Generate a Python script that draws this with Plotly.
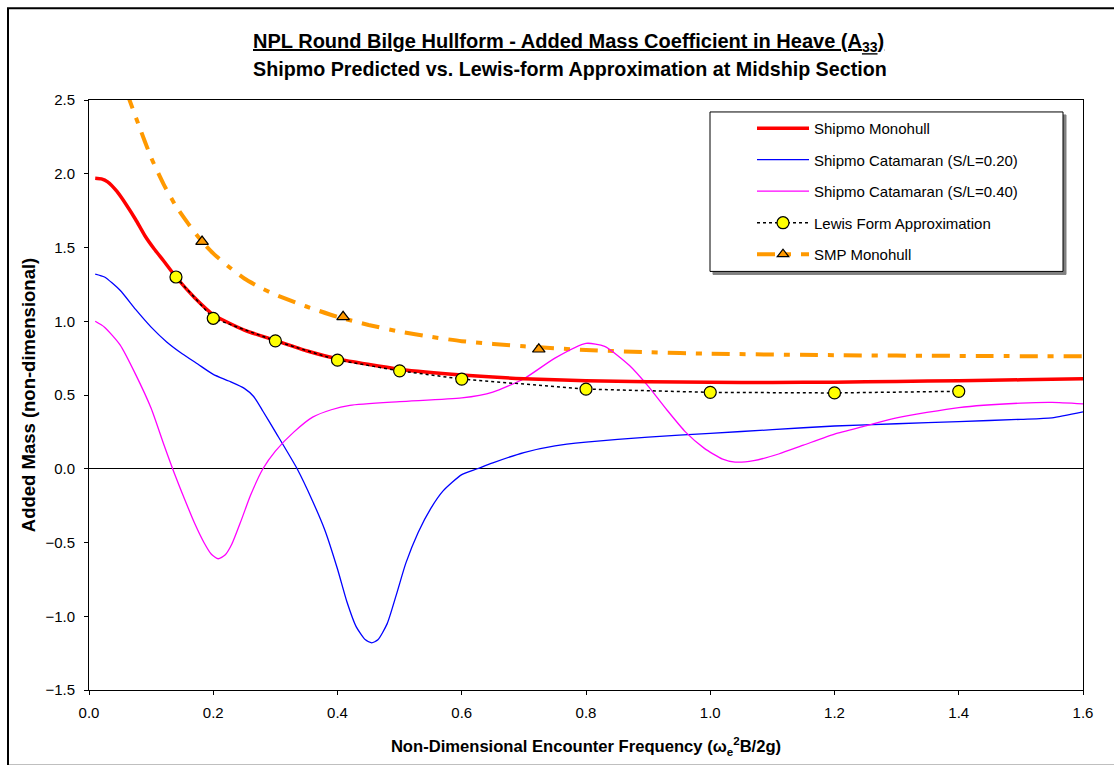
import plotly.graph_objects as go

# ---------------- data ----------------
mono_x = [0.01, 0.02, 0.03, 0.045, 0.06, 0.075, 0.09, 0.105, 0.12, 0.14, 0.17, 0.2, 0.25, 0.3,
          0.35, 0.4, 0.5, 0.6, 0.7, 0.8, 0.9, 1.0, 1.1, 1.2, 1.3, 1.4, 1.5, 1.6]
mono_y = [1.97, 1.965, 1.945, 1.88, 1.79, 1.69, 1.58, 1.49, 1.41, 1.30, 1.16, 1.045, 0.94, 0.87,
          0.80, 0.745, 0.675, 0.635, 0.61, 0.597, 0.59, 0.586, 0.585, 0.587, 0.592, 0.597, 0.603, 0.61]

cat20_x = [0.01, 0.025, 0.05, 0.075, 0.1, 0.125, 0.15, 0.175, 0.2, 0.225, 0.25, 0.265, 0.28, 0.3,
           0.335, 0.36, 0.38, 0.4, 0.415, 0.43, 0.445, 0.455, 0.465, 0.48, 0.495, 0.51, 0.53, 0.55,
           0.57, 0.6, 0.625, 0.65, 0.7, 0.75, 0.8, 0.9, 1.0, 1.1, 1.2, 1.3, 1.4, 1.5, 1.55, 1.6]
cat20_y = [1.32, 1.30, 1.21, 1.08, 0.96, 0.86, 0.78, 0.71, 0.64, 0.595, 0.545, 0.49, 0.39, 0.25,
           0.0, -0.22, -0.42, -0.68, -0.90, -1.07, -1.16, -1.18, -1.16, -1.05, -0.85, -0.64, -0.43, -0.27,
           -0.15, -0.04, 0.0, 0.04, 0.11, 0.155, 0.18, 0.215, 0.24, 0.265, 0.29, 0.305, 0.32, 0.335, 0.345, 0.385]

cat40_x = [0.01, 0.025, 0.05, 0.075, 0.1, 0.12, 0.14, 0.16, 0.17, 0.185, 0.197, 0.208, 0.219, 0.23,
           0.245, 0.26, 0.28, 0.3, 0.33, 0.36, 0.39, 0.42, 0.5, 0.6, 0.65, 0.7, 0.75, 0.8, 0.83, 0.87,
           0.9, 0.93, 0.96, 0.99, 1.02, 1.04, 1.07, 1.11, 1.15, 1.2, 1.25, 1.3, 1.4, 1.5, 1.55, 1.6]
cat40_y = [1.0, 0.96, 0.84, 0.64, 0.41, 0.17, -0.06, -0.27, -0.37, -0.50, -0.58, -0.61, -0.585, -0.51,
           -0.35, -0.18, 0.0, 0.12, 0.25, 0.35, 0.40, 0.43, 0.455, 0.48, 0.52, 0.61, 0.75, 0.85, 0.83, 0.70,
           0.56, 0.40, 0.25, 0.14, 0.065, 0.045, 0.055, 0.10, 0.16, 0.235, 0.29, 0.345, 0.415, 0.445, 0.45, 0.44]

lewis_x = [0.14, 0.2, 0.3, 0.4, 0.5, 0.6, 0.8, 1.0, 1.2, 1.4]
lewis_y = [1.30, 1.02, 0.867, 0.736, 0.664, 0.608, 0.54, 0.518, 0.514, 0.525]

smp_line_x = [0.06, 0.08, 0.1, 0.12, 0.14, 0.16, 0.18, 0.2, 0.225, 0.25, 0.275, 0.3, 0.35, 0.4,
              0.45, 0.5, 0.55, 0.6, 0.7, 0.8, 0.9, 1.0, 1.2, 1.4, 1.6]
smp_line_y = [2.56, 2.33, 2.11, 1.93, 1.78, 1.66, 1.55, 1.46, 1.37, 1.29, 1.23, 1.18, 1.10, 1.03,
              0.975, 0.93, 0.895, 0.865, 0.83, 0.805, 0.79, 0.78, 0.77, 0.765, 0.762]

smp_pts_x = [0.182, 0.409, 0.724]
smp_pts_y = [1.54, 1.03, 0.81]

x_ticks = [0.0, 0.2, 0.4, 0.6, 0.8, 1.0, 1.2, 1.4, 1.6]
y_ticks = [-1.5, -1.0, -0.5, 0.0, 0.5, 1.0, 1.5, 2.0, 2.5]

# ---------------- layout geometry (pixels) ----------------
W, H = 1114, 765
L, R, T, B = 89, 31, 100, 73
PW, PH = W - L - R, H - T - B


def px(xp):
    return (xp - L) / PW


def py(yp):
    return (H - B - yp) / PH


FONT = "Liberation Sans, Arial, sans-serif"
ORANGE = "#FF9900"
SMP_DASH = "18px,10px,6px,10px"

fig = go.Figure()

fig.add_trace(go.Scatter(x=smp_line_x, y=smp_line_y, mode="lines", showlegend=False,
                         line=dict(color=ORANGE, width=4, dash=SMP_DASH, shape="spline", smoothing=0.6),
                         hoverinfo="skip"))
fig.add_trace(go.Scatter(x=cat20_x, y=cat20_y, mode="lines", name="Shipmo Catamaran (S/L=0.20)",
                         legendrank=2, legendgroup="b",
                         line=dict(color="#0000FF", width=1.3, shape="spline", smoothing=0.6)))
fig.add_trace(go.Scatter(x=cat40_x, y=cat40_y, mode="lines", name="Shipmo Catamaran (S/L=0.40)",
                         legendrank=3, legendgroup="c",
                         line=dict(color="#FF00FF", width=1.3, shape="spline", smoothing=0.6)))
fig.add_trace(go.Scatter(x=mono_x, y=mono_y, mode="lines", name="Shipmo Monohull",
                         legendrank=1, legendgroup="a",
                         line=dict(color="#FF0000", width=3.5, shape="spline", smoothing=0.6)))
fig.add_trace(go.Scatter(x=lewis_x, y=lewis_y, mode="lines+markers", name="Lewis Form Approximation",
                         legendrank=4, legendgroup="d",
                         line=dict(color="black", width=1.5, dash="dot"),
                         marker=dict(symbol="circle", size=12, color="#FFFF00",
                                     line=dict(color="black", width=1.2))))
fig.add_trace(go.Scatter(x=smp_pts_x, y=smp_pts_y, mode="markers", showlegend=False,
                         marker=dict(symbol="triangle-up", size=11, color=ORANGE,
                                     line=dict(color="black", width=1.2))))
# legend entry for SMP (line + triangle)
fig.add_trace(go.Scatter(x=[None], y=[None], mode="lines+markers", name="SMP Monohull",
                         legendrank=5, legendgroup="e",
                         line=dict(color=ORANGE, width=4, dash=SMP_DASH),
                         marker=dict(symbol="triangle-up", size=10, color=ORANGE,
                                     line=dict(color="black", width=1.2))))

shapes = [
    # outer chart frame
    dict(type="rect", xref="paper", yref="paper", x0=px(8), x1=px(1118), y0=py(768), y1=py(8),
         line=dict(color="black", width=2), fillcolor="rgba(0,0,0,0)", layer="above"),
    # legend shadow + box
    dict(type="rect", xref="paper", yref="paper", x0=px(713), x1=px(1066), y0=py(275), y1=py(115),
         line=dict(color="#808080", width=1), fillcolor="#808080", layer="above"),
    dict(type="rect", xref="paper", yref="paper", x0=px(710), x1=px(1063), y0=py(272), y1=py(112),
         line=dict(color="black", width=1), fillcolor="white", layer="above"),
]

annotations = [
    dict(text="<b><u>NPL Round Bilge Hullform - Added Mass Coefficient in Heave (A<sub>33</sub>)</u></b>",
         xref="paper", yref="paper", x=px(568), y=py(42), xanchor="center", yanchor="middle",
         showarrow=False, font=dict(family=FONT, size=20, color="black")),
    dict(text="<b>Shipmo Predicted vs. Lewis-form Approximation at Midship Section</b>",
         xref="paper", yref="paper", x=px(570), y=py(69), xanchor="center", yanchor="middle",
         showarrow=False, font=dict(family=FONT, size=19.7, color="black")),
]

fig.update_layout(
    width=W, height=H,
    margin=dict(l=L, r=R, t=T, b=B, pad=0),
    paper_bgcolor="white", plot_bgcolor="white",
    font=dict(family=FONT, size=15, color="black"),
    shapes=shapes, annotations=annotations,
    showlegend=True,
    legend=dict(x=px(752), y=py(112), xanchor="left", yanchor="top",
                bgcolor="rgba(0,0,0,0)", borderwidth=0,
                font=dict(family=FONT, size=15, color="black"),
                itemwidth=52, tracegroupgap=9, traceorder="grouped"),
)

fig.update_xaxes(range=[0, 1.6], tickvals=x_ticks, tickformat=".1f", ticklabelstandoff=5,
                 showgrid=False, zeroline=False, showline=True, mirror=True,
                 linecolor="black", linewidth=1, ticks="outside", ticklen=4, tickcolor="black",
                 title=dict(text="<b>Non-Dimensional Encounter Frequency (ω<sub>e</sub><sup>2</sup>B/2g)</b>",
                            font=dict(family=FONT, size=16.6), standoff=20))
fig.update_yaxes(range=[-1.5, 2.5], tickvals=y_ticks, tickformat=".1f", ticklabelstandoff=6,
                 showgrid=False, zeroline=True, zerolinecolor="black", zerolinewidth=1,
                 showline=True, mirror=True,
                 linecolor="black", linewidth=1, ticks="outside", ticklen=4, tickcolor="black",
                 title=dict(text="<b>Added Mass (non-dimensional)</b>",
                            font=dict(family=FONT, size=18.5), standoff=4))

fig.write_html("out.html")
